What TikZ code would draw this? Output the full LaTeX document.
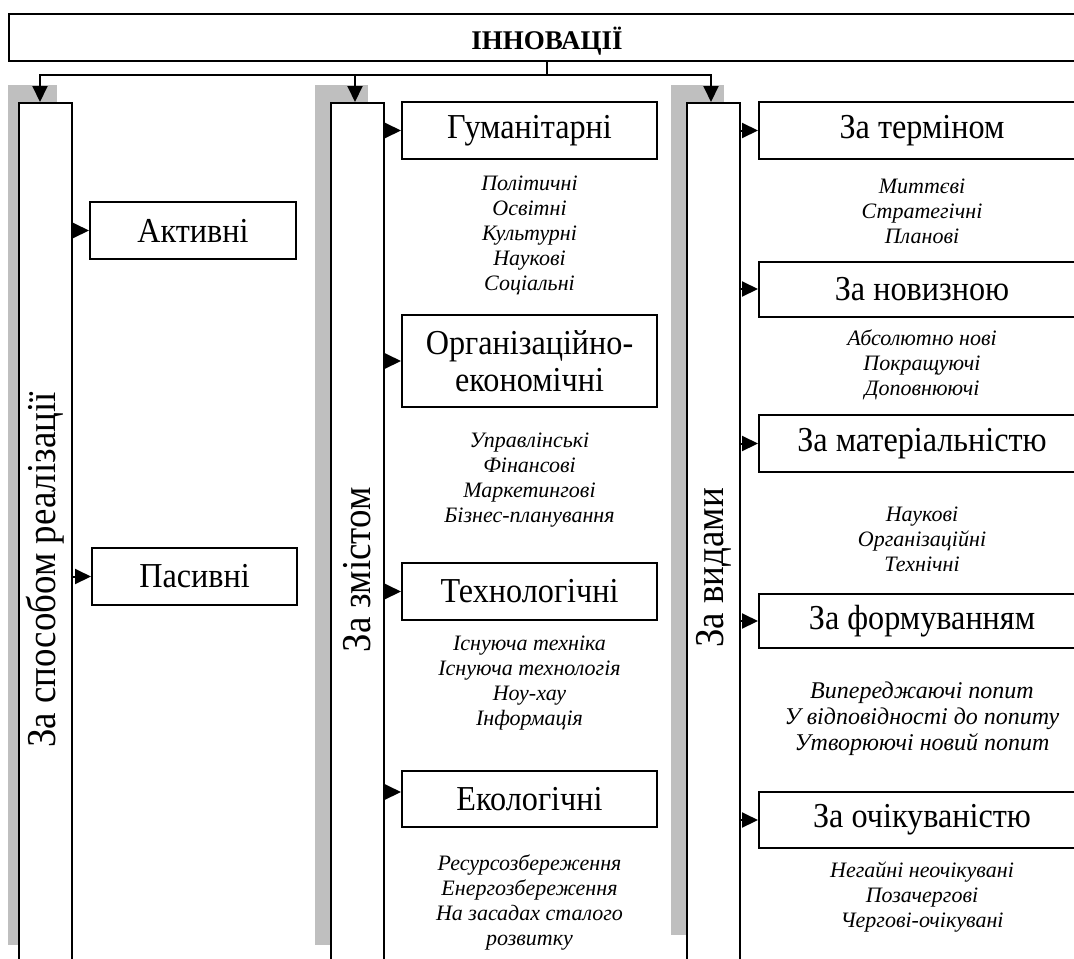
\documentclass[tikz,border=0pt]{standalone}
\usepackage{fontspec}
\setmainfont{Liberation Serif}
\newfontfamily\narrowserif[FakeStretch=0.92]{Liberation Serif}
\newfontfamily\narrowrot[FakeStretch=0.9]{Liberation Serif}
\usetikzlibrary{arrows.meta}
\begin{document}
\begin{tikzpicture}[x=0.5pt,y=-0.5pt,
  box/.style={draw=black,line width=1pt,fill=white,inner sep=0pt,align=center,
              font=\narrowserif\fontsize{17.5}{18.5}\selectfont},
  midbox/.style={box,minimum width=127.5pt,minimum height=28.5pt},
  rbox/.style={box,minimum width=163pt,minimum height=28.5pt},
  colbox/.style={draw=black,line width=1pt,fill=white,inner sep=0pt,
                 minimum width=26.5pt,minimum height=430pt,anchor=north},
  shade/.style={fill=black!25,draw=none},
  lst/.style={font=\fontsize{11}{12.5}\selectfont\itshape,align=center,inner sep=0pt},
  lstbig/.style={font=\fontsize{12}{13}\selectfont\itshape,align=center,inner sep=0pt},
  vlab/.style={rotate=90,font=\narrowrot\fontsize{20.5}{22}\selectfont,inner sep=0pt},
  arr/.style={line width=1pt,-{Triangle[length=8pt,width=7.5pt]}},
  conn/.style={line width=1pt}]

\useasboundingbox (0,0) rectangle (1074,958);
\clip (0,0) rectangle (1074,958);

% shadows
\fill[shade] (8,85) rectangle (57,945);
\fill[shade] (315,85) rectangle (368,945);
\fill[shade] (671,85) rectangle (724,935);

% top box
\node[draw=black,line width=1pt,fill=white,inner sep=0pt,minimum width=541pt,
      minimum height=23.5pt,anchor=north west] (top) at (8,13) {};
\node[font=\fontsize{13.5}{16}\selectfont\bfseries,inner sep=0pt] (title) at (547,41) {ІННОВАЦІЇ};

% columns
\node[colbox] (colL) at (45.5,102) {};
\node[colbox] (colM) at (357.5,102) {};
\node[colbox] (colR) at (713.5,102) {};

\node[vlab] (labL) at (45.5,570) {За способом реалізації};
\node[vlab] (labM) at (357.5,570) {За змістом};
\node[vlab] (labR) at (713.5,568) {За видами};

% connectors from top
\coordinate (hub) at (547,75);
\draw[conn] (top.south -| hub) -- (hub);
\draw[arr] (hub) -| ([xshift=-2.75pt]colL.north);
\draw[arr] (hub) -| ([xshift=-1.25pt]colM.north);
\draw[arr] (hub) -| ([xshift=-1.25pt]colR.north);

% left content
\node[box,minimum width=103pt,minimum height=28.5pt] (act) at (193,230.5) {Активні};
\node[box,minimum width=102.5pt,minimum height=28.5pt] (pas) at (194.5,576.5) {Пасивні};

% middle content
\node[midbox] (gum) at (529.5,130.5) {Гуманітарні};
\node[midbox,minimum height=46pt] (org) at (529.5,361) {Організаційно-\\економічні};
\node[midbox] (tech) at (529.5,591.5) {Технологічні};
\node[midbox,minimum height=28pt] (eco) at (529.5,799) {Екологічні};

\node[lst] (gumL) at (529.5,235.5) {Політичні\\Освітні\\Культурні\\Наукові\\Соціальні};
\node[lst] (orgL) at (529.5,480.5) {Управлінські\\Фінансові\\Маркетингові\\Бізнес-планування};
\node[lst] (techL) at (529.5,683.5) {Існуюча техніка\\Існуюча технологія\\Ноу-хау\\Інформація};
\node[lst] (ecoL) at (529.5,902.5) {Ресурсозбереження\\Енергозбереження\\На засадах сталого\\розвитку};

% right content
\node[rbox] (ter) at (922,130.5) {За терміном};
\node[rbox,minimum height=27.5pt] (nov) at (922,289) {За новизною};
\node[rbox] (mat) at (922,443.5) {За матеріальністю};
\node[rbox,minimum height=27pt] (form) at (922,621) {За формуванням};
\node[rbox,minimum height=28pt] (och) at (922,820) {За очікуваністю};

\node[lst] (terL) at (922,211.5) {Миттєві\\Стратегічні\\Планові};
\node[lst] (novL) at (922,365) {Абсолютно нові\\Покращуючі\\Доповнюючі};
\node[lst] (matL) at (922,539.5) {Наукові\\Організаційні\\Технічні};
\node[lstbig] (formL) at (922,719) {Випереджаючі попит\\У відповідності до попиту\\Утворюючі новий попит};
\node[lst] (ochL) at (922,897.5) {Негайні неочікувані\\Позачергові\\Чергові-очікувані};

% side arrows
\draw[arr] (colL.east |- act.west) -- (act.west);
\draw[arr] (colL.east |- pas.west) -- (pas.west);
\draw[arr] (colM.east |- gum.west) -- (gum.west);
\draw[arr] (colM.east |- org.west) -- (org.west);
\draw[arr] (colM.east |- tech.west) -- (tech.west);
\draw[arr] ([yshift=3.5pt]colM.east |- eco.west) -- ([yshift=3.5pt]eco.west);
\draw[arr] (colR.east |- ter.west) -- (ter.west);
\draw[arr] (colR.east |- nov.west) -- (nov.west);
\draw[arr] (colR.east |- mat.west) -- (mat.west);
\draw[arr] (colR.east |- form.west) -- (form.west);
\draw[arr] (colR.east |- och.west) -- (och.west);
\end{tikzpicture}
\end{document}
